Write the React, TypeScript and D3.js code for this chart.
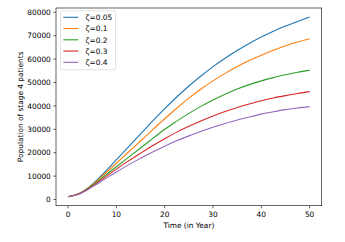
import * as d3 from "d3";

const years = [0, 2.5, 5, 7.5, 10, 12.5, 15, 17.5, 20, 22.5, 25, 27.5, 30, 32.5, 35, 37.5, 40, 42.5, 45, 47.5, 50];

const zeta005 = [1200, 2800, 6500, 11500, 17000, 22500, 28000, 33500, 38800, 43800, 48500, 52800, 56800, 60400, 63700, 66700, 69400, 71900, 74100, 76100, 78000];
const zeta01 = [1200, 2750, 6200, 10800, 15500, 20300, 25000, 29800, 34500, 39000, 43300, 47200, 50700, 53900, 56800, 59400, 61700, 63800, 65700, 67300, 68700];
const zeta02 = [1200, 2700, 6000, 10000, 14000, 18000, 22000, 26000, 30000, 33500, 36800, 39800, 42500, 45000, 47200, 49100, 50700, 52100, 53300, 54400, 55300];
const zeta03 = [1200, 2600, 5700, 9300, 13000, 16500, 19800, 23000, 26000, 28800, 31300, 33600, 35700, 37600, 39300, 40800, 42200, 43400, 44400, 45300, 46100];
const zeta04 = [1200, 2500, 5400, 8600, 11800, 14800, 17600, 20300, 22800, 25100, 27200, 29100, 30900, 32500, 34000, 35300, 36500, 37500, 38400, 39100, 39700];

const labels = ["ζ=0.05", "ζ=0.1", "ζ=0.2", "ζ=0.3", "ζ=0.4"];
const colors = ["#1f77b4", "#ff7f0e", "#2ca02c", "#d62728", "#9467bd"];
const xTicks = [0, 10, 20, 30, 40, 50];
const yTicks = [0, 10000, 20000, 30000, 40000, 50000, 60000, 70000, 80000];

const W = 345;
const H = 242;
const left = 56, top = 8, right = 321.7, bottom = 205.7;
const font = "DejaVu Sans, sans-serif";
const fs = 7.4;

export default function App() {
  const series = [zeta005, zeta01, zeta02, zeta03, zeta04];
  const x = d3.scaleLinear().domain([-2.5, 52.5]).range([left, right]);
  const y = d3.scaleLinear().domain([-2640, 81840]).range([bottom, top]);
  const line = d3
    .line<number>()
    .x((_, i) => x(years[i]))
    .y((d) => y(d))
    .curve(d3.curveMonotoneX);

  return (
    <svg width={W} height={H} style={{ position: "absolute", left: 0, top: 0, background: "#fff" }} fontFamily={font}>
      <rect x={0} y={0} width={W} height={H} fill="#fff" />
      {series.map((s, k) => (
        <path key={k} d={line(s) || ""} fill="none" stroke={colors[k]} strokeWidth={1.1} />
      ))}
      <rect x={left} y={top} width={right - left} height={bottom - top} fill="none" stroke="#000" strokeWidth={0.6} />
      {xTicks.map((t) => (
        <g key={t}>
          <line x1={x(t)} x2={x(t)} y1={bottom} y2={bottom + 2.6} stroke="#000" strokeWidth={0.6} />
          <text x={x(t)} y={bottom + 11.3} fontSize={fs} textAnchor="middle" fill="#000">{t}</text>
        </g>
      ))}
      {yTicks.map((t) => (
        <g key={t}>
          <line x1={left - 2.6} x2={left} y1={y(t)} y2={y(t)} stroke="#000" strokeWidth={0.6} />
          <text x={left - 5.2} y={y(t) + 2.7} fontSize={fs} textAnchor="end" fill="#000">{t}</text>
        </g>
      ))}
      <text x={(left + right) / 2} y={228} fontSize={fs} textAnchor="middle" fill="#000">Time (in Year)</text>
      <text transform={`translate(23,${(top + bottom) / 2}) rotate(-90)`} fontSize={fs} textAnchor="middle" fill="#000">
        Population of stage 4 patients
      </text>
      <rect x={60.5} y={10.8} width={55} height={59} rx={2} fill="#fff" fillOpacity={0.8} stroke="#ccc" strokeWidth={0.6} />
      {labels.map((l, k) => (
        <g key={l}>
          <line x1={63.3} x2={78.3} y1={17.3 + k * 11.25} y2={17.3 + k * 11.25} stroke={colors[k]} strokeWidth={1.1} />
          <text x={85.5} y={17.3 + k * 11.25 + 2.7} fontSize={fs} fill="#000">{l}</text>
        </g>
      ))}
    </svg>
  );
}
